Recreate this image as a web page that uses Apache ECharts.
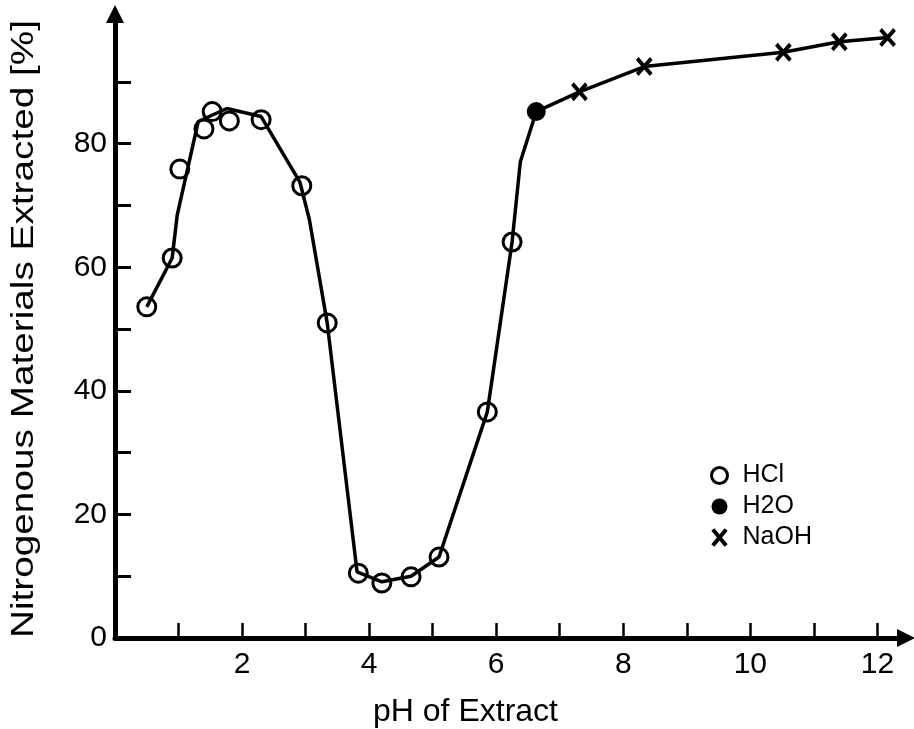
<!DOCTYPE html>
<html>
<head>
<meta charset="utf-8">
<script src="https://cdn.jsdelivr.net/npm/echarts@6/dist/echarts.min.js"></script>
<style>
html,body{margin:0;padding:0;background:#fff;}
#chart{width:914px;height:729px;}
</style>
</head>
<body>
<div id="chart"></div>
<script>
// points: pH of extract / % extracted
var hclPh   = [0.50, 0.90, 1.02, 1.40, 1.53, 1.80, 2.30, 2.94, 3.34, 3.83, 4.20, 4.66, 5.10, 5.86, 6.25];
var hclVal  = [53.6, 61.5, 75.9, 82.4, 85.2, 83.7, 83.9, 73.2, 51.0, 10.5, 8.9, 9.9, 13.1, 36.6, 64.1];
var h2oPh   = [6.63];
var h2oVal  = [85.2];
var naohPh  = [7.31, 8.33, 10.52, 11.40, 12.16];
var naohVal = [88.4, 92.5, 94.8, 96.5, 97.2];

// the hand drawn curve (does not go through every circle)
var curvePh  = [0.50, 0.90, 0.98, 1.31, 1.76, 2.30, 2.91, 3.06, 3.34, 3.81, 4.20, 4.66, 5.10, 5.86, 6.25, 6.38, 6.63, 7.31, 8.33, 10.52, 11.40, 12.16];
var curveVal = [53.6, 61.5, 68.5, 83.6, 85.7, 84.4, 73.8, 67.7, 51.0, 10.7, 9.1, 10.0, 13.1, 36.6, 64.1, 77.1, 85.2, 88.4, 92.5, 94.8, 96.5, 97.2];

var xTicks  = [1, 2, 3, 4, 5, 6, 7, 8, 9, 10, 11, 12];
var xLabels = [2, 4, 6, 8, 10, 12];
var yTicks  = [0, 10, 20, 30, 40, 50, 60, 70, 80, 90];
var yLabels = [0, 20, 40, 60, 80];

function pairs(xs, ys) {
	var out = [];
	for (var i = 0; i < xs.length; i++) out.push([xs[i], ys[i]]);
	return out;
}

var FONT = '"Liberation Sans", Arial, sans-serif';
var crossPath = 'path://M0,0L10,12M10,0L0,12';

var chart = echarts.init(document.getElementById('chart'));
chart.setOption({
	animation: false,
	backgroundColor: '#fff',
	grid: {left: 115, right: 8, top: 14, bottom: 91, containLabel: false, outerBoundsMode: 'none'},
	xAxis: {
		type: 'value', min: 0, max: 12.45,
		name: 'pH of Extract', nameLocation: 'middle', nameGap: 58,
		nameTextStyle: {fontFamily: FONT, fontSize: 32, color: '#000', padding: [0, 90, 0, 0]},
		axisLine: {show: true, symbol: ['none', 'triangle'], symbolSize: [18, 18],
			lineStyle: {color: '#000', width: 5}},
		axisTick: {show: true, inside: true, length: 15, customValues: xTicks,
			lineStyle: {color: '#000', width: 2.5}},
		axisLabel: {customValues: xLabels, margin: 12, fontFamily: FONT, fontSize: 30, color: '#000'},
		splitLine: {show: false}
	},
	yAxis: {
		type: 'value', min: 0, max: 101,
		axisLine: {show: true, symbol: ['none', 'triangle'], symbolSize: [18, 18],
			lineStyle: {color: '#000', width: 5}},
		axisTick: {show: true, inside: true, length: 16, customValues: yTicks,
			lineStyle: {color: '#000', width: 3}},
		axisLabel: {customValues: yLabels, margin: 8, fontFamily: FONT, fontSize: 30, color: '#000'},
		splitLine: {show: false}
	},
	// y title is drawn stretched along its length, as in the picture
	graphic: [{
		type: 'text', x: 24, y: 329, rotation: Math.PI / 2, scaleX: 1.25,
		style: {text: 'Nitrogenous Materials Extracted [%]', font: '31px ' + FONT,
			fill: '#000', align: 'center', verticalAlign: 'middle'}
	}],
	legend: {
		orient: 'vertical', left: 705, top: 458,
		itemWidth: 16, itemHeight: 16, itemGap: 6,
		textStyle: {fontFamily: FONT, fontSize: 25, color: '#000', padding: [0, 0, 0, 10]},
		data: [
			{name: 'HCl', icon: 'circle', itemStyle: {color: 'transparent', borderColor: '#000', borderWidth: 3, opacity: 1}},
			{name: 'H2O', icon: 'circle', itemStyle: {color: '#000', borderColor: '#000', borderWidth: 0, opacity: 1}},
			{name: 'NaOH', icon: crossPath, itemStyle: {color: 'transparent', borderColor: '#000', borderWidth: 4, opacity: 1}}
		]
	},
	series: [
		{
			name: 'curve', type: 'line', data: pairs(curvePh, curveVal),
			showSymbol: false, symbol: 'none', smooth: false,
			lineStyle: {color: '#000', width: 3.5}, z: 1
		},
		{
			name: 'HCl', type: 'scatter', data: pairs(hclPh, hclVal),
			symbol: 'circle', symbolSize: 18,
			itemStyle: {color: 'transparent', borderColor: '#000', borderWidth: 3, opacity: 1}, z: 3
		},
		{
			name: 'H2O', type: 'scatter', data: pairs(h2oPh, h2oVal),
			symbol: 'circle', symbolSize: 19,
			itemStyle: {color: '#000', opacity: 1}, z: 3
		},
		{
			name: 'NaOH', type: 'scatter', data: pairs(naohPh, naohVal),
			symbol: crossPath, symbolSize: [14, 16],
			itemStyle: {color: 'transparent', borderColor: '#000', borderWidth: 4, opacity: 1}, z: 3
		}
	]
});
</script>
</body>
</html>
